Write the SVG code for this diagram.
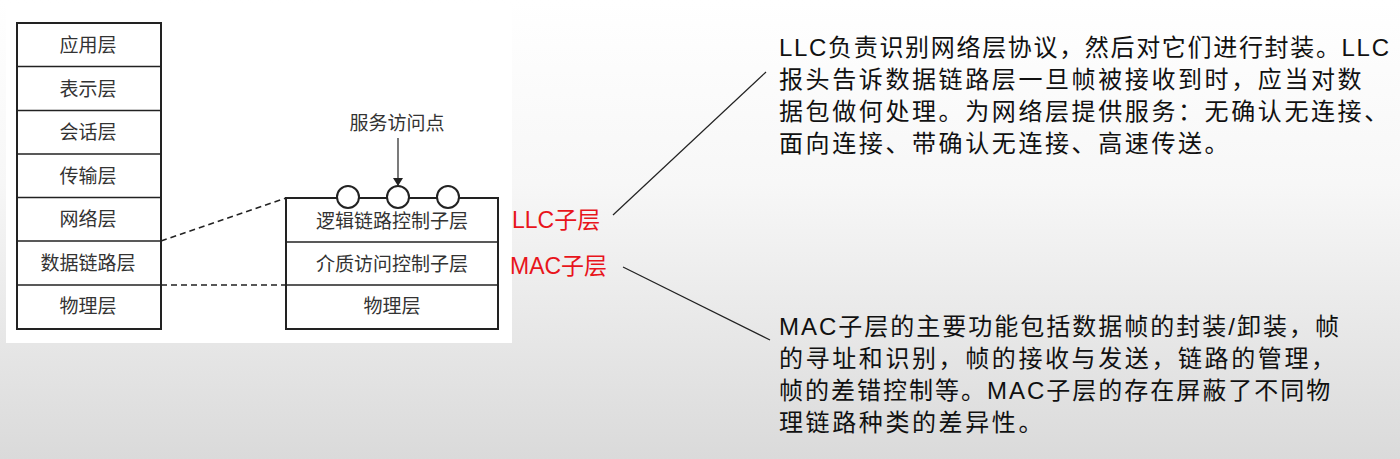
<svg xmlns="http://www.w3.org/2000/svg" width="1400" height="459" viewBox="0 0 1400 459">
<defs>
<linearGradient id="bg" x1="0" y1="0" x2="0" y2="1"><stop offset="0" stop-color="#ffffff"/><stop offset="0.4" stop-color="#f7f7f7"/><stop offset="1" stop-color="#dadada"/></linearGradient>
<marker id="ah" markerWidth="8" markerHeight="10" refX="7" refY="5" orient="auto" markerUnits="userSpaceOnUse"><path d="M0,0 L8,5 L0,10 Z" fill="#222"/></marker>
<style>
.box{fill:none;stroke:#222;stroke-width:2}
.sep{stroke:#222;stroke-width:1.5}
.t{font-family:"Noto Sans CJK SC",sans-serif;font-size:19px;fill:#333;text-anchor:middle}
.red{font-family:"Liberation Sans","Noto Sans CJK SC",sans-serif;font-size:23px;fill:#e8141b}
.body{font-family:"Liberation Sans","Noto Sans CJK SC",sans-serif;font-size:24px;letter-spacing:2.6px;fill:#111}
.dash{stroke:#222;stroke-width:1.5;stroke-dasharray:6,4;fill:none}
.ln{stroke:#222;stroke-width:1.2;fill:none}
</style>
</defs>
<rect width="1400" height="459" fill="url(#bg)"/>
<rect x="6" y="3" width="506" height="340" fill="#fff"/>
<g id="osi">
<rect class="box" x="17" y="23" width="144" height="306"/>
<line class="sep" x1="17" y1="66.5" x2="161" y2="66.5"/>
<line class="sep" x1="17" y1="110.5" x2="161" y2="110.5"/>
<line class="sep" x1="17" y1="154" x2="161" y2="154"/>
<line class="sep" x1="17" y1="197.5" x2="161" y2="197.5"/>
<line class="sep" x1="17" y1="241" x2="161" y2="241"/>
<line class="sep" x1="17" y1="285" x2="161" y2="285"/>
<text class="t" x="88" y="52">应用层</text>
<text class="t" x="88" y="96">表示层</text>
<text class="t" x="88" y="139">会话层</text>
<text class="t" x="88" y="183">传输层</text>
<text class="t" x="88" y="226">网络层</text>
<text class="t" x="88" y="270">数据链路层</text>
<text class="t" x="88" y="313">物理层</text>
</g>
<g id="lan">
<rect class="box" x="286" y="198" width="212" height="131"/>
<line class="sep" x1="286" y1="242" x2="498" y2="242"/>
<line class="sep" x1="286" y1="285" x2="498" y2="285"/>
<text class="t" x="392" y="228">逻辑链路控制子层</text>
<text class="t" x="392" y="271">介质访问控制子层</text>
<text class="t" x="392" y="313">物理层</text>
<circle cx="348" cy="197" r="11" fill="#fff" stroke="#222" stroke-width="2"/>
<circle cx="398" cy="197" r="11" fill="#fff" stroke="#222" stroke-width="2"/>
<circle cx="448" cy="197" r="11" fill="#fff" stroke="#222" stroke-width="2"/>
<text class="t" x="397" y="130">服务访问点</text>
</g>
<g id="labels">
<text class="red" x="512" y="228">LLC子层</text>
<text class="red" x="510" y="274">MAC子层</text>
<text class="body" x="779" y="56" style="letter-spacing:0" textLength="610" lengthAdjust="spacing">LLC负责识别网络层协议，然后对它们进行封装。LLC</text>
<text class="body" x="779" y="88">报头告诉数据链路层一旦帧被接收到时，应当对数</text>
<text class="body" x="779" y="120">据包做何处理。为网络层提供服务：无确认无连接、</text>
<text class="body" x="779" y="152">面向连接、带确认无连接、高速传送。</text>
<text class="body" x="779" y="335" style="letter-spacing:2px">MAC子层的主要功能包括数据帧的封装/卸装，帧</text>
<text class="body" x="779" y="367">的寻址和识别，帧的接收与发送，链路的管理，</text>
<text class="body" x="779" y="399" style="letter-spacing:2px">帧的差错控制等。MAC子层的存在屏蔽了不同物</text>
<text class="body" x="779" y="431">理链路种类的差异性。</text>
</g>
<g id="connectors">
<line class="ln" x1="398" y1="138" x2="398" y2="185" marker-end="url(#ah)"/>
<line class="sep" x1="359" y1="198" x2="387" y2="198"/>
<line class="sep" x1="409" y1="198" x2="437" y2="198"/>
<path class="dash" d="M161,241 L286,198"/>
<path class="dash" d="M161,285 L286,285"/>
<line class="ln" x1="613" y1="215" x2="766" y2="72"/>
<line class="ln" x1="623" y1="267" x2="770" y2="340"/>
</g>
</svg>
